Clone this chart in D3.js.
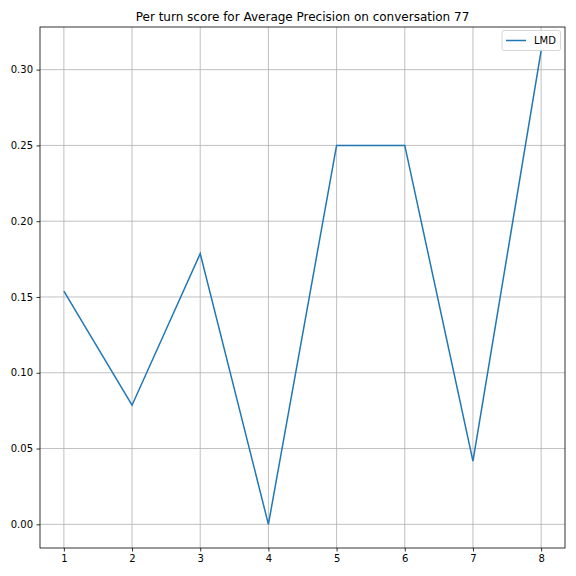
<!DOCTYPE html>
<html><head><meta charset="utf-8">
<script src="https://cdn.jsdelivr.net/npm/d3@7"></script>
<style>body{margin:0;background:#fff}svg{display:block}text{font-family:"DejaVu Sans",sans-serif}</style>
</head><body>
<script>
const turns = [1,2,3,4,5,6,7,8];
const lmdScores = [0.1538,0.0786,0.1786,0.0,0.25,0.25,0.0417,0.3125];
const yTicks = [0.00,0.05,0.10,0.15,0.20,0.25,0.30];
const seriesName = "LMD";
const titleText = "Per turn score for Average Precision on conversation 77";

const W=576,H=576, L=40, R=565, T=27, B=548;
const svg=d3.select("body").append("svg").attr("width",W).attr("height",H);
svg.append("rect").attr("width",W).attr("height",H).attr("fill","#fff");
const x=d3.scaleLinear().domain([0.65,8.35]).range([L,R]);
const y=d3.scaleLinear().domain([-0.015625,0.328125]).range([B,T]);
const g=svg.append("g");
// grid
g.selectAll(".gx").data(turns).enter().append("line")
 .attr("x1",d=>x(d)).attr("x2",d=>x(d)).attr("y1",T).attr("y2",B)
 .attr("stroke","#b0b0b0").attr("stroke-width",0.8);
g.selectAll(".gy").data(yTicks).enter().append("line")
 .attr("y1",d=>y(d)).attr("y2",d=>y(d)).attr("x1",L).attr("x2",R)
 .attr("stroke","#b0b0b0").attr("stroke-width",0.8);
// line
svg.append("path").datum(turns.map((t,i)=>[t,lmdScores[i]]))
 .attr("d",d3.line().x(d=>x(d[0])).y(d=>y(d[1])))
 .attr("fill","none").attr("stroke","#1f77b4").attr("stroke-width",1.5);
// axes
const xa=svg.append("g").attr("transform",`translate(0,${B})`)
 .call(d3.axisBottom(x).tickValues(turns).tickFormat(d3.format("d")).tickSize(3.5).tickPadding(3.5));
const ya=svg.append("g").attr("transform",`translate(${L},0)`)
 .call(d3.axisLeft(y).tickValues(yTicks).tickFormat(d3.format(".2f")).tickSize(3.5).tickPadding(3.5));
[xa,ya].forEach(a=>{a.select(".domain").remove();a.selectAll("text").attr("font-size",10).attr("fill","#000").style("font-family","DejaVu Sans");a.selectAll("line").attr("stroke","#000").attr("stroke-width",0.8);});
svg.append("rect").attr("x",L).attr("y",T).attr("width",R-L).attr("height",B-T)
 .attr("fill","none").attr("stroke","#000").attr("stroke-width",0.8);
// title
svg.append("text").attr("x",(L+R)/2).attr("y",T-6).attr("text-anchor","middle")
 .attr("font-size",12).text(titleText);
// legend
const lg=svg.append("g");
lg.append("rect").attr("x",502).attr("y",30.5).attr("width",58.5).attr("height",20).attr("rx",2)
 .attr("fill","#fff").attr("fill-opacity",0.8).attr("stroke","#ccc").attr("stroke-width",0.8);
lg.append("line").attr("x1",506).attr("x2",526).attr("y1",40.5).attr("y2",40.5)
 .attr("stroke","#1f77b4").attr("stroke-width",1.5);
lg.append("text").attr("x",534).attr("y",44.3).attr("font-size",10).text(seriesName);
</script>
</body></html>
